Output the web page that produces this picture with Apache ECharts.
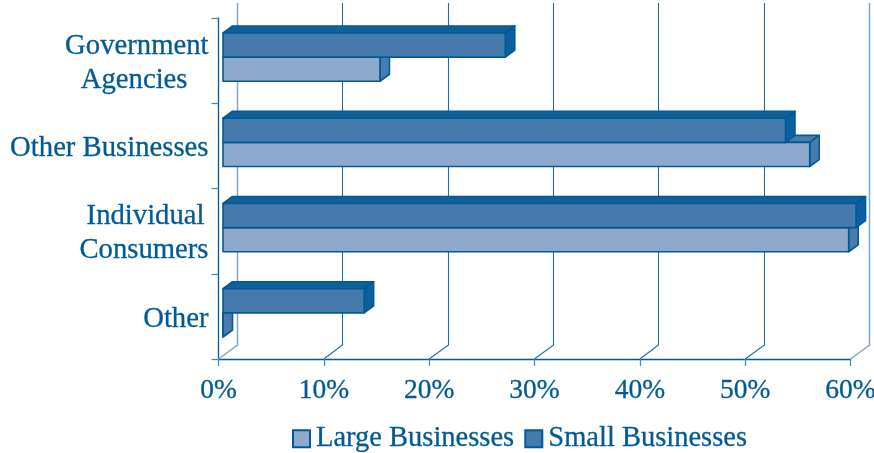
<!DOCTYPE html>
<html><head><meta charset="utf-8">
<style>html,body{margin:0;padding:0;background:#fff}#c{width:874px;height:453px}</style>
<script src="https://cdn.jsdelivr.net/npm/echarts@6/dist/echarts.min.js"></script>
</head><body><div id="c"></div>
<script>
var categories = ['Government Agencies', 'Other Businesses', 'Individual Consumers', 'Other'];
var largeBusinesses = [14.9, 55.7, 59.4, 0];
var smallBusinesses = [26.8, 53.4, 60.1, 13.4];
var xTicks = [0, 10, 20, 30, 40, 50, 60];

var INK = '#005a96', FF = 'Liberation Serif', FS = 28.7, LH = 34;
var EDGE = {textBorderColor: INK, textBorderWidth: 0.3};
var chart = echarts.init(document.getElementById('c'), null, {renderer: 'canvas'});

function poly(points, fill) {
  return {type: 'polygon', shape: {points: points},
    style: {fill: fill, stroke: INK, lineWidth: 1.6, lineJoin: 'round'}};
}
function barRender(slot, front, top, side) {
  return function (params, api) {
    var c = api.coord([api.value(0), api.value(1)]);
    var z = api.coord([0, api.value(1)]);
    var band = api.size([0, 1])[1];
    var h = band * 0.283;
    var ox = 4.5, oy = -3.5, dx = 9.5, dy = -7;
    var x0 = z[0] + ox, x1 = c[0] + ox;
    var y0 = c[1] + oy + slot * h, y1 = y0 + h;
    return {type: 'group', children: [
      poly([[x0, y0], [x0 + dx, y0 + dy], [x1 + dx, y0 + dy], [x1, y0]], top),
      poly([[x1, y0], [x1 + dx, y0 + dy], [x1 + dx, y1 + dy], [x1, y1]], side),
      poly([[x0, y0], [x1, y0], [x1, y1], [x0, y1]], front)
    ]};
  };
}
function wallRender(params, api) {
  var p = api.coord([api.value(0), categories[categories.length - 1]]);
  var bottom = params.coordSys.y + params.coordSys.height;
  var top = params.coordSys.y;
  var edge = api.value(0) === 0 || api.value(0) === 60;
  var stroke = edge ? '#7fa9c8' : '#1f6ca3';
  var lw = edge ? 1.5 : 1.1;
  var xb = Math.floor(p[0] + 19) + 0.5;
  return {type: 'polyline', shape: {points: [[p[0], bottom], [xb, bottom - 14], [xb, top - 15]]},
    style: {fill: 'none', stroke: stroke, lineWidth: lw}};
}
function lab(extra) {
  return Object.assign({color: INK, fontFamily: FF, fontSize: FS, lineHeight: LH}, EDGE, extra);
}

chart.setOption({
  animation: false,
  backgroundColor: '#fff',
  grid: {left: 218.5, width: 632, top: 18, height: 341, containLabel: false, outerBoundsMode: 'none'},
  legend: {
    data: ['Large Businesses', 'Small Businesses'],
    top: 419, left: 287, icon: 'rect', itemWidth: 17, itemHeight: 17, itemGap: 10,
    textStyle: Object.assign({color: INK, fontFamily: FF, fontSize: 28.5, padding: [3, 0, 0, 1]}, EDGE)
  },
  xAxis: {
    type: 'value', min: 0, max: 60, interval: 10,
    axisLine: {show: true, lineStyle: {color: INK, width: 1.3}},
    axisTick: {show: true, length: 7, lineStyle: {color: '#4f8ab5', width: 1.3}},
    splitLine: {show: false},
    axisLabel: Object.assign({color: INK, fontFamily: FF, fontSize: 27.5, margin: 18, formatter: '{value}%'}, EDGE)
  },
  yAxis: {
    type: 'category', inverse: true, data: categories,
    axisLine: {show: true, lineStyle: {color: INK, width: 1.3}},
    axisTick: {show: true, length: 7, lineStyle: {color: '#4f8ab5', width: 1.3}},
    axisLabel: {
      color: INK, fontFamily: FF, fontSize: FS, margin: 10, lineHeight: LH,
      formatter: function (v) {
        if (v === 'Government Agencies') return '{n|Government}\n{a|Agencies}';
        if (v === 'Individual Consumers') return '{i|Individual}\n{c|Consumers}';
        return '{n|' + v + '}';
      },
      rich: {
        n: lab({padding: [6, 0, 0, 0]}),
        a: lab({padding: [6, 21, 0, 0]}),
        i: lab({padding: [4, 4, 0, 0]}),
        c: lab({padding: [4, 0, 0, 0]})
      }
    }
  },
  series: [
    {type: 'custom', name: 'walls', silent: true, z: 1, clip: false,
     renderItem: wallRender, data: xTicks.map(function (t) { return [t]; }), encode: {x: 0}},
    {type: 'custom', name: 'Large Businesses', z: 2, clip: false,
     itemStyle: {color: '#8fa9cd', borderColor: INK, borderWidth: 1.6},
     renderItem: barRender(0, '#8fa9cd', '#4a7bae', '#4a7bae'),
     data: largeBusinesses.map(function (v, i) { return [v, categories[i]]; }), encode: {x: 0, y: 1}},
    {type: 'custom', name: 'Small Businesses', z: 3, clip: false,
     itemStyle: {color: '#467aad', borderColor: INK, borderWidth: 1.6},
     renderItem: barRender(-1, '#467aad', '#10609c', '#0b5f9e'),
     data: smallBusinesses.map(function (v, i) { return [v, categories[i]]; }), encode: {x: 0, y: 1}}
  ]
});
</script></body></html>
